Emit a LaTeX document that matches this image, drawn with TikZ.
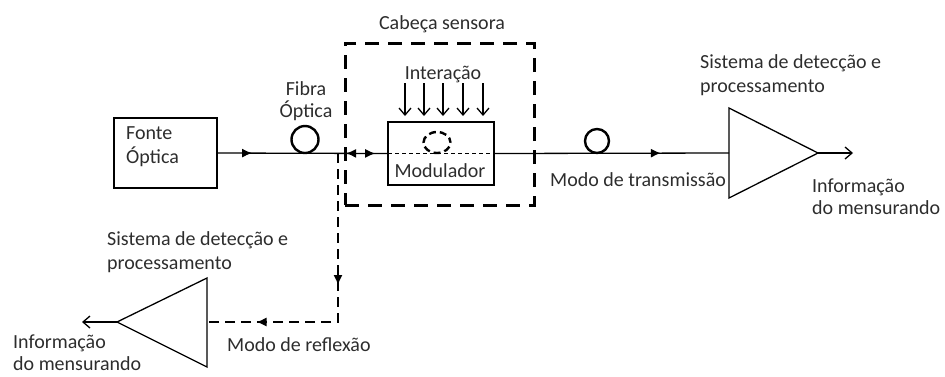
\documentclass[tikz,border=0pt]{standalone}
\usepackage{fontspec}
\setmainfont{Carlito}
\usetikzlibrary{arrows.meta,decorations.markings,calc,shapes.geometric}
\definecolor{txt}{RGB}{45,45,45}
\begin{document}
\begin{tikzpicture}[x=1pt,y=-1pt,
  lbl/.style={font=\fontsize{20}{22}\selectfont, text=txt, inner sep=0pt},
  ln/.style={line width=1.3pt, draw=black},
  box/.style={draw, line width=1.3pt, inner sep=0pt, outer sep=0pt},
  loopc/.style={draw, circle, line width=2.4pt, inner sep=0pt},
  midarr/.style={postaction={decorate,decoration={markings,mark=at position #1 with {\arrow{Latex[length=10pt,width=9pt]}}}}},
  revarr/.style={postaction={decorate,decoration={markings,mark=at position #1 with {\arrowreversed{Latex[length=10pt,width=9pt]}}}}},
  barb/.style={-{Straight Barb[length=7pt,width=12pt,line width=1.3pt]}, line width=1.3pt},
  headbox/.style={draw, line width=3pt, dash pattern=on 14pt off 9pt, inner sep=0pt},
  refl/.style={line width=1.3pt, dash pattern=on 10pt off 6pt},
]
\useasboundingbox (0,0) rectangle (945,376);

% sensor head
\node[headbox, minimum width=189pt, minimum height=162pt] (head) at (439.5,124) {};
\node[lbl] (headlbl) at (442,24) {Cabeça sensora};

% source
\node[box, minimum width=103pt, minimum height=70pt] (fonte) at (165.5,153) {};
\node[lbl, anchor=west, align=left, font=\fontsize{20}{24}\selectfont] (fontelbl) at (126,147) {Fonte\\Óptica};

% fibre loop 1
\node[loopc, minimum size=27pt] (loop1) at (305,139.5) {};
\node[lbl, align=center] (fibralbl) at (306,101) {Fibra\\Óptica};

% modulator
\node[box, minimum width=106pt, minimum height=63pt] (modl) at (441,153.5) {};
\node[lbl] (modlbl) at (440,171) {Modulador};
\draw[line width=1.2pt, dash pattern=on 4pt off 3pt] (modl.west) -- (modl.east);
\node[draw, ellipse, line width=2.4pt, dash pattern=on 7pt off 4pt, dash phase=2pt, minimum width=27pt, minimum height=21pt, inner sep=0pt] (loopm) at (437,142.5) {};

% interaction
\node[lbl] (intlbl) at (443,74) {Interação};
\foreach \i/\x in {1/405,2/424,3/443,4/463,5/483}{
  \coordinate (ia\i) at (\x,83);
  \coordinate (ib\i) at (\x,116);
  \draw[barb] (ia\i) -- (ib\i);
}

% main line
\coordinate (tap) at (338,153);
\draw[ln, midarr=0.205, revarr=0.755, midarr=0.925] (fonte.east) -- (modl.west);

% transmission triangle
\coordinate (t1a) at (729,108);
\coordinate (t1b) at (729,198);
\coordinate (t1tip) at (818,153);
\coordinate (t1in) at (729,153);
\coordinate (out1) at (853,153);
\draw[line width=1.3pt, line join=miter] (t1a) -- (t1b) -- (t1tip) -- cycle;
\node[loopc, minimum size=24pt] (loop2) at (597,141) {};
\draw[ln, midarr=0.71] (modl.east) -- (t1in);
\draw[barb] (t1tip) -- (out1);

\node[lbl, anchor=west, align=left, font=\fontsize{20}{24}\selectfont] (sis1) at (700,75) {Sistema de detecção e\\processamento};
\node[lbl, anchor=west] (trans) at (550,180) {Modo de transmissão};
\node[lbl, anchor=west, align=left] (inf1) at (812,197) {Informação\\do mensurando};

% reflection
\coordinate (t2a) at (207,278);
\coordinate (t2b) at (207,367);
\coordinate (t2tip) at (117,322);
\coordinate (t2in) at (207,322);
\coordinate (out2) at (82,322);
\draw[line width=1.3pt, line join=miter] (t2a) -- (t2b) -- (t2tip) -- cycle;
\draw[refl, midarr=0.44, midarr=0.835] (tap) |- (t2in);
\draw[barb] (t2tip) -- (out2);

\node[lbl, anchor=west, align=left, font=\fontsize{20}{24}\selectfont] (sis2) at (107,252) {Sistema de detecção e\\processamento};
\node[lbl, anchor=west] (refllbl) at (227,345) {Modo de reflexão};
\node[lbl, anchor=west, align=left] (inf2) at (13,353) {Informação\\do mensurando};
\end{tikzpicture}
\end{document}
